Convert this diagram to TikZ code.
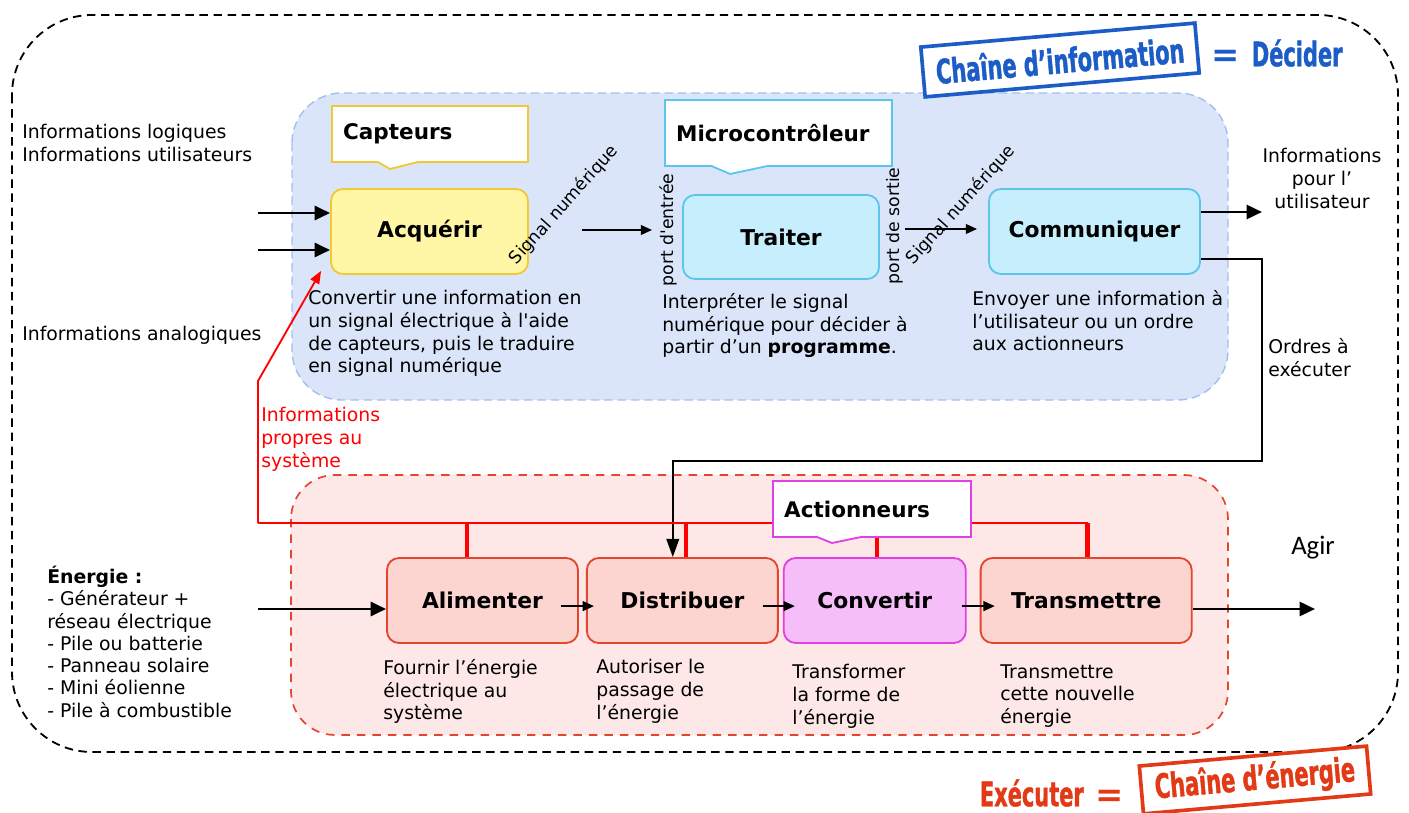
\documentclass[tikz,border=0pt]{standalone}
\usepackage{fontspec}
\setmainfont{DejaVu Sans}
\newfontfamily\stampfont[FakeStretch=0.62, BoldFeatures={FakeBold=1.2}]{DejaVu Sans}
\newfontfamily\eqfont{DejaVu Sans}
\newfontfamily\agirfont{Carlito}
\usepackage{tikz}
\usetikzlibrary{arrows.meta,positioning,shapes.callouts}

\definecolor{fondbleu}{HTML}{DAE5FA}
\definecolor{bordbleu}{HTML}{A3BFEE}
\definecolor{fondjaune}{HTML}{FFF6A6}
\definecolor{bordjaune}{HTML}{F2C935}
\definecolor{fondcyan}{HTML}{C6EEFC}
\definecolor{bordcyan}{HTML}{5CC5EC}
\definecolor{fondrose}{HTML}{FDE7E7}
\definecolor{bordrouge}{HTML}{E4462D}
\definecolor{fondrouge}{HTML}{FCD5D1}
\definecolor{fondmagenta}{HTML}{F6BEF8}
\definecolor{bordmagenta}{HTML}{E040E4}
\definecolor{tamponbleu}{HTML}{1C5CC6}
\definecolor{tamponrouge}{HTML}{E23A16}

\begin{document}
\begin{tikzpicture}[x=0.025cm, y=-0.025cm, >={Triangle[length=11pt,width=10pt]}, line join=miter]
				\tikzset{texte/.style={inner sep=0pt, anchor=north west, align=left, font=\fontsize{13.4}{16.2}\selectfont}}
				\tikzset{etiquette/.style={inner sep=0pt, font=\fontsize{12.3}{14}\selectfont}}
				\tikzset{bloc/.style={draw, rounded corners=0.3cm, line width=1.3pt, inner sep=0pt, minimum height=2.125cm, font=\bfseries\fontsize{15.5}{18}\selectfont}}
				\tikzset{bulle/.style={rectangle callout, draw, fill=white, line width=1.3pt, inner xsep=0.28cm, inner ysep=0pt, minimum height=1.4cm, align=left, font=\bfseries\fontsize{15.3}{18}\selectfont}}
				\tikzset{fleche/.style={->, line width=2pt}}
				\tikzset{flechefine/.style={-{Triangle[length=8pt,width=7pt]}, line width=1.1pt}}
				\tikzset{ordre/.style={-{Triangle[length=13pt,width=9pt]}, line width=1.4pt}}
				\tikzset{lienrouge/.style={red, -{Triangle[length=9pt,width=7pt]}, line width=1.3pt}}
				\tikzset{rougebus/.style={red, line width=2pt}}
				\tikzset{rougebarre/.style={red, line width=3.2pt}}
				\tikzset{tampon/.style={draw, fill=white, line width=2.6pt, inner sep=0pt, font=\stampfont\bfseries\fontsize{24}{24}\selectfont}}
				\tikzset{tampontexte/.style={inner sep=0pt, font=\stampfont\bfseries\fontsize{24}{24}\selectfont}}

				%CADRE
				\useasboundingbox (0,0) rectangle (1409,813);
				\draw[dash pattern=on 6pt off 4pt, line width=1.3pt, rounded corners=2cm] (12,15) rectangle (1398,752);

				%ZONES
				\draw[bordbleu, fill=fondbleu, dash pattern=on 6pt off 3.5pt, line width=1pt, rounded corners=1.25cm] (292,93) rectangle (1228,400);
				\draw[bordrouge, fill=fondrose, dash pattern=on 6pt off 5pt, line width=1.2pt, rounded corners=1.1cm] (291,475) rectangle (1228,735);

				%CHAINE D'INFORMATION
				\node[bloc, draw=bordjaune, fill=fondjaune, minimum width=4.925cm]			(acq) at (429.5,231.5)	{Acquérir};
				\node[bloc, draw=bordcyan, fill=fondcyan, minimum width=4.9cm, minimum height=2.1cm]	(trait) at (781,237)	{Traiter};
				\node[bloc, draw=bordcyan, fill=fondcyan, minimum width=5.275cm]			(comm) at (1094.5,231.5)	{Communiquer};

				%CHAINE D'ENERGIE
				\node[bloc, draw=bordrouge, fill=fondrouge, minimum width=4.775cm]			(alim) at (482.5,600.5)	{Alimenter};
				\node[bloc, draw=bordrouge, fill=fondrouge, minimum width=4.775cm]			(distr) [right=0.175cm of alim]	{Distribuer};
				\node[bloc, draw=bordmagenta, fill=fondmagenta, minimum width=4.55cm]		(conv) [right=0.1cm of distr]	{Convertir};
				\node[bloc, draw=bordrouge, fill=fondrouge, minimum width=5.275cm]			(trans) [right=0.325cm of conv]	{Transmettre};

				%LIAISONS
				\coordinate (e1) at (258,213);
				\coordinate (e2) at (258,250);
				\coordinate (sn1) at (582,230);
				\coordinate (pe) at (652,230);
				\coordinate (ps) at (905,229);
				\coordinate (sn2) at (977,229);
				\coordinate (s1) at (1262,212);
				\coordinate (coin) at (1262,461);
				\coordinate (en) at (258,609);
				\coordinate (agir) at (1315,609);
				\draw[fleche] (e1) -- (e1 -| acq.west);
				\draw[fleche] (e2) -- (e2 -| acq.west);
				\draw[flechefine] (sn1) -- (pe);
				\draw[flechefine] (ps) -- (sn2);
				\draw[fleche] (s1 -| comm.east) -- (s1);
				\draw[ordre] ([yshift=-0.69cm]comm.east) -| (coin) -| ([xshift=-0.24cm]distr.north);
				\draw[fleche] (en) -- (en -| alim.west);
				\draw[flechefine] ([xshift=-0.45cm,yshift=-0.14cm]alim.east) -- ([xshift=0.2cm,yshift=-0.14cm]distr.west);
				\draw[flechefine] ([xshift=-0.4cm,yshift=-0.14cm]distr.east) -- ([xshift=0.3cm,yshift=-0.14cm]conv.west);
				\draw[flechefine] ([xshift=-0.125cm,yshift=-0.14cm]conv.east) -- ([xshift=0.375cm,yshift=-0.14cm]trans.west);
				\draw[fleche] (agir -| trans.east) -- (agir);

				%RETOUR D'INFORMATION
				\coordinate (bus) at (258,523);
				\coordinate (coude) at (258,381);
				\coordinate (d1) at ([xshift=-0.39cm]alim.north);
				\coordinate (d2) at ([xshift=0.09cm]distr.north);
				\coordinate (d3) at ([xshift=0.05cm]conv.north);
				\coordinate (d4) at ([xshift=0.04cm]trans.north);
				\draw[lienrouge] (bus) -- (coude) -- ([xshift=-0.225cm,yshift=0.1cm]acq.south west);
				\draw[rougebus] (bus) -- (bus -| d4);
				\draw[rougebarre] (d1) -- (d1 |- bus);
				\draw[rougebarre] (d2) -- (d2 |- bus);
				\draw[rougebarre] (d3) -- (d3 |- bus);
				\draw[rougebarre] (d4) -- (d4 |- bus);

				%BULLES
				\node[bulle, draw=bordjaune, text width=4.34cm, callout absolute pointer={(390,169)}, callout pointer width=1cm]		(capt) at (430,134)	{Capteurs};
				\node[bulle, draw=bordcyan, text width=5.115cm, minimum height=1.65cm, callout absolute pointer={(730,174)}, callout pointer width=1.4cm]	(micro) at (778.5,133)	{Microcontrôleur};
				\node[bulle, draw=bordmagenta, text width=4.39cm, callout absolute pointer={(832,543)}, callout pointer width=1.1cm]	(act) at (872,509)	{Actionneurs};

				%ETIQUETTES
				\node[etiquette, rotate=48]	(sig1) at (564,205)	{Signal numérique};
				\node[etiquette, rotate=90]	(pentree) at (668,230)	{port d\textquotesingle entrée};
				\node[etiquette, rotate=90]	(psortie) at (895,226)	{port de sortie};
				\node[etiquette, rotate=48]	(sig2) at (961,205)	{Signal numérique};

				%TEXTES
				\node[texte]	(infolog) at (22,124)	{Informations logiques\\Informations utilisateurs};
				\node[texte]	(infoana) at (22,326)	{Informations analogiques};
				\node[texte]	(txtacq) at (308,290)	{Convertir une information en\\un signal électrique à l\textquotesingle aide\\de capteurs, puis le traduire\\en signal numérique};
				\node[texte]	(txttrait) at (662,293)	{Interpréter le signal\\numérique pour décider à\\partir d’un \textbf{programme}.};
				\node[texte]	(txtcomm) at (972,290)	{Envoyer une information à\\l’utilisateur ou un ordre\\aux actionneurs};
				\node[texte, anchor=north, align=center]	(infout) at (1322,148)	{Informations\\pour l’\\utilisateur};
				\node[texte]	(ordres) at (1268,338)	{Ordres à\\exécuter};
				\node[texte, text=red]	(propres) at (261,407)	{Informations\\propres au\\système};
				\node[texte, font=\fontsize{13.4}{15.8}\selectfont]	(energie) at (47,566)	{\textbf{Énergie :}\\- Générateur +\\réseau électrique\\- Pile ou batterie\\- Panneau solaire\\- Mini éolienne\\- Pile à combustible};
				\node[texte]	(txtalim) at (383,659)	{Fournir l’énergie\\électrique au\\système};
				\node[texte]	(txtdistr) at (596,659)	{Autoriser le\\passage de\\l’énergie};
				\node[texte]	(txtconv) at (792,664)	{Transformer\\la forme de\\l’énergie};
				\node[texte]	(txttrans) at (1000,664)	{Transmettre\\cette nouvelle\\énergie};
				\node[font=\agirfont\fontsize{19}{19}\selectfont, inner sep=0pt]	(agirlab) at (1313,548)	{Agir};

				%TAMPONS
				\node[tampon, draw=tamponbleu, text=tamponbleu, rotate=5, minimum width=6.875cm, minimum height=1.25cm]	(chinfo) at (1060,60)	{Chaîne d’information};
				\node[tampontexte, text=tamponbleu]	(decider) at (1277,53)	{{\eqfont =}\hspace{0.3cm}Décider};
				\node[tampontexte, text=tamponrouge]	(executer) at (1052,793)	{Exécuter\hspace{0.3cm}{\eqfont =}};
				\node[tampon, draw=tamponrouge, text=tamponrouge, rotate=5, minimum width=5.7cm, minimum height=1.2cm]	(chener) at (1255,780)	{Chaîne d’énergie};
\end{tikzpicture}
\end{document}
